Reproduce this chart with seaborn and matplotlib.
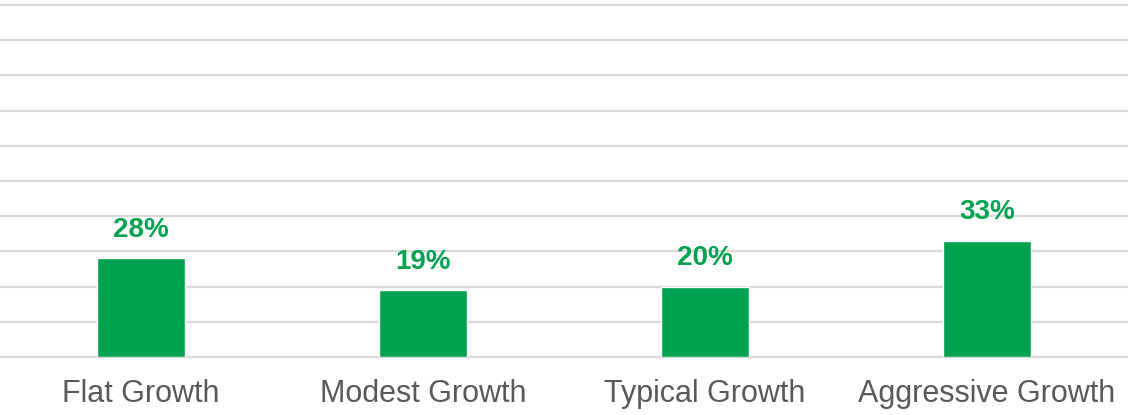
import matplotlib
matplotlib.use("Agg")
import matplotlib.pyplot as plt
import seaborn as sns
import pandas as pd

# --- data ---
categories = ["Flat Growth", "Modest Growth", "Typical Growth", "Aggressive Growth"]
values = [28, 19, 20, 33]
bar_labels = ["28%", "19%", "20%", "33%"]

green = "#00A14F"

sns.set_theme(style="white")
plt.rcParams["font.family"] = ["Liberation Sans", "DejaVu Sans"]

df = pd.DataFrame({"category": categories, "value": values})

fig = plt.figure(figsize=(11.28, 4.15), dpi=100)
ax = fig.add_axes([0.0, 0.14, 1.0, 0.848])

sns.barplot(data=df, x="category", y="value", color=green, width=0.31,
            saturation=1, ax=ax, zorder=3)

ax.set_ylim(0, 100)
ax.set_yticks(range(0, 101, 10))
ax.yaxis.grid(True, color="#D9D9D9", linewidth=1.6, zorder=0)
for gl in ax.get_ygridlines():
    gl.set_clip_on(False)
ax.set_axisbelow(True)
ax.tick_params(axis="y", left=False, labelleft=False)
ax.tick_params(axis="x", bottom=False, labelsize=22, labelcolor="#595959", pad=10)
ax.set_xlabel("")
ax.set_ylabel("")
for s in ax.spines.values():
    s.set_visible(False)

ax.bar_label(ax.containers[0], labels=bar_labels, padding=11, fontsize=20,
             fontweight="bold", color=green)

fig.savefig("out.png", dpi=100)
plt.close(fig)
